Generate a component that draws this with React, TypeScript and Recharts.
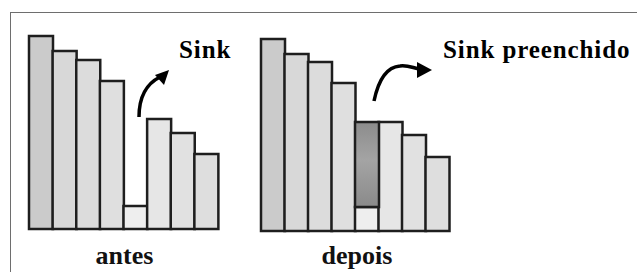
import React from "react";
import { BarChart, Bar, XAxis, YAxis, Cell } from "recharts";

// heights of the columns (1 unit = 1px)
const columns = ["1", "2", "3", "4", "5", "6", "7", "8"];
const antesValues = [193, 178, 169, 148, 23, 110, 96, 75];
const depoisBase = [192, 177, 169, 148, 24, 109, 96, 74];
const depoisFill = [0, 0, 0, 0, 85, 0, 0, 0];

const antesData = columns.map((c, i) => ({ col: c, v: antesValues[i] }));
const depoisData = columns.map((c, i) => ({ col: c, base: depoisBase[i], fill: depoisFill[i] }));

const barShades = ["#cbcbcb", "#d8d8d8", "#dcdcdc", "#dfdfdf", "#eeeeee", "#e6e6e6", "#e1e1e1", "#dedede"];
const STROKE = "#1e1e1e";
const SERIF = "Liberation Serif";

const labelStyle: React.CSSProperties = {
  fontFamily: SERIF,
  fontWeight: "bold",
};

export default function App() {
  return (
    <div
      style={{
        position: "fixed",
        left: 0,
        top: 0,
        width: 637,
        height: 272,
        background: "#fff",
        overflow: "hidden",
      }}
    >
      <svg width={0} height={0} style={{ position: "absolute" }}>
        <defs>
          <linearGradient id="sinkFilled" x1="0" y1="0" x2="0" y2="1">
            <stop offset="0%" stopColor="#8c8c8c" />
            <stop offset="45%" stopColor="#a4a4a4" />
            <stop offset="100%" stopColor="#8a8a8a" />
          </linearGradient>
        </defs>
      </svg>

      <div
        style={{
          position: "absolute",
          left: 10,
          top: 12,
          width: 700,
          height: 300,
          borderTop: "1px solid #6e6e6e",
          borderLeft: "1px solid #6e6e6e",
        }}
      />

      <div style={{ position: "absolute", left: 0, top: 0 }}>
        <BarChart
          width={240}
          height={272}
          data={antesData}
          margin={{ top: 29, right: 22, bottom: 43, left: 29 }}
          barCategoryGap={0}
        >
          <XAxis dataKey="col" hide />
          <YAxis hide domain={[0, 200]} />
          <Bar dataKey="v" stroke={STROKE} strokeWidth={2.5} isAnimationActive={false}>
            {antesData.map((_, i) => (
              <Cell key={i} fill={barShades[i]} />
            ))}
          </Bar>
        </BarChart>
      </div>

      <div style={{ position: "absolute", left: 240, top: 0 }}>
        <BarChart
          width={240}
          height={272}
          data={depoisData}
          margin={{ top: 31, right: 31, bottom: 41, left: 21 }}
          barCategoryGap={0}
        >
          <XAxis dataKey="col" hide />
          <YAxis hide domain={[0, 200]} />
          <Bar dataKey="base" stackId="s" stroke={STROKE} strokeWidth={2.5} isAnimationActive={false}>
            {depoisData.map((_, i) => (
              <Cell key={i} fill={barShades[i]} />
            ))}
          </Bar>
          <Bar dataKey="fill" stackId="s" fill="#999999" stroke={STROKE} strokeWidth={2.5} isAnimationActive={false}>
            {depoisData.map((_, i) => (
              <Cell key={i} fill="url(#sinkFilled)" />
            ))}
          </Bar>
        </BarChart>
      </div>

      <svg width={637} height={272} style={{ position: "absolute", left: 0, top: 0 }}>
        {/* arrows */}
        <path d="M139,117 C139,98 146,84 160,77" fill="none" stroke="#000" strokeWidth={3.5} />
        <polygon points="169,70 155,75 164,85" fill="#000" />
        <path d="M374,101 C378,82 386,67 400,66 C408,65 413,68 420,69" fill="none" stroke="#000" strokeWidth={3.5} />
        <polygon points="432,70 417,62 417,78" fill="#000" />

        <text x={179} y={58} style={{ ...labelStyle, fontSize: 25, letterSpacing: 0.9 }} fill="#000">
          Sink
        </text>
        <text x={443} y={58} style={{ ...labelStyle, fontSize: 25, letterSpacing: 0.9 }} fill="#000">
          Sink preenchido
        </text>
        <text x={124.5} y={264} textAnchor="middle" style={{ ...labelStyle, fontSize: 26 }} fill="#111">
          antes
        </text>
        <text x={357} y={264} textAnchor="middle" style={{ ...labelStyle, fontSize: 26 }} fill="#111">
          depois
        </text>
      </svg>
    </div>
  );
}
